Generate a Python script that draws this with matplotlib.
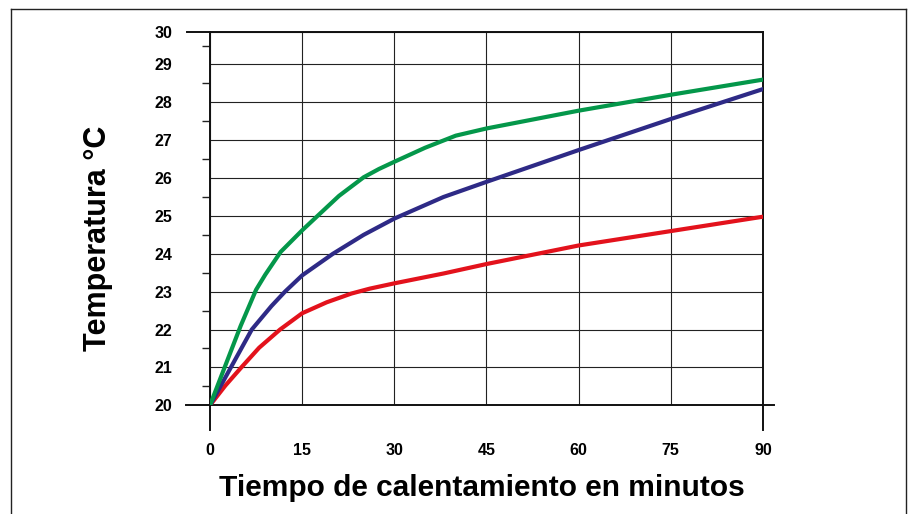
#!/usr/bin/env python3
"""
Temperatura vs tiempo de calentamiento - tres curvas
"""

import matplotlib
matplotlib.use('Agg')
import matplotlib.pyplot as plt
from matplotlib.lines import Line2D

plt.rcParams['font.family'] = ['Liberation Sans', 'DejaVu Sans']
plt.rcParams['font.weight'] = 'bold'

# Datos (minutos, grados C)
t_verde = [0, 2.5, 5, 7.5, 9, 11.5, 15, 17.5, 21, 25, 27.5, 30, 35, 40, 45, 60, 75, 90]
verde = [20, 21.05, 22.1, 23.05, 23.45, 24.05, 24.62, 25.0, 25.53, 26.02, 26.24,
         26.43, 26.8, 27.12, 27.31, 27.78, 28.2, 28.6]

t_azul = [0, 3.4, 6.8, 10, 12.2, 15, 20, 25, 30, 38, 45, 60, 75, 90]
azul = [20, 21.0, 22.0, 22.62, 23.0, 23.43, 24.0, 24.5, 24.93, 25.5, 25.9,
        26.74, 27.56, 28.35]

t_rojo = [0, 2.5, 5.1, 8, 11.4, 15, 19, 23, 26, 30, 38, 45, 60, 75, 90]
rojo = [20, 20.52, 21.0, 21.52, 22.0, 22.43, 22.72, 22.95, 23.08, 23.22, 23.48,
        23.73, 24.22, 24.6, 24.98]

x_ticks = [0, 15, 30, 45, 60, 75, 90]
y_ticks = [20, 21, 22, 23, 24, 25, 26, 27, 28, 29]
y_labels = ['20', '21', '22', '23', '24', '25', '26', '27', '28', '29', '30']
y_minor = [20.5, 21.5, 22.5, 23.5, 24.5, 25.5, 26.5, 27.5, 28.5, 29.5]

# the top row of the original is drawn a little shorter than the others
y_top = 29.85

fig = plt.figure(figsize=(9.11, 5.14), dpi=100)
ax = fig.add_axes([0.2305, 0.2115, 0.607, 0.7257])

ax.plot(t_rojo, rojo, color='#e3121c', lw=3.0, solid_joinstyle='round', zorder=3)
ax.plot(t_azul, azul, color='#2e2a86', lw=3.0, solid_joinstyle='round', zorder=4)
ax.plot(t_verde, verde, color='#04974a', lw=3.0, solid_joinstyle='round', zorder=5)

ax.set_xlim(0, 90)
ax.set_ylim(20, y_top)

ax.set_xticks(x_ticks)
ax.set_yticks(y_ticks + [y_top])
ax.set_yticklabels(y_labels)
ax.set_yticks(y_minor, minor=True)

ax.tick_params(axis='x', length=0, pad=27, labelsize=11.5)
ax.tick_params(axis='y', which='major', length=0, pad=27, labelsize=11.5)
ax.tick_params(axis='y', which='minor', length=5.5, width=1.0, color='#222222')

ax.grid(True, which='major', color='#222222', lw=0.8, zorder=1)

# spines, stretched past the plotting area like the original
for side in ['left', 'right', 'top', 'bottom']:
    ax.spines[side].set_color('#111111')
    ax.spines[side].set_linewidth(1.4)
ax.spines['left'].set_bounds(19.36, y_top)
ax.spines['right'].set_bounds(19.36, y_top)
ax.spines['bottom'].set_bounds(-3.9, 91.8)
ax.spines['top'].set_bounds(-3.7, 90)

fig.text(98 / 911, 1 - 238 / 514, 'Temperatura °C', rotation=90,
         ha='center', va='center', fontsize=22, fontweight='bold')
fig.text(482 / 911, 1 - 488 / 514, 'Tiempo de calentamiento en minutos',
         ha='center', va='center', fontsize=21.5, fontweight='bold')

# marco exterior (sin borde inferior)
frame = dict(color='#222222', lw=1.0, transform=fig.transFigure)
fig.add_artist(Line2D([11 / 911, 11 / 911], [0, 1 - 9 / 514], **frame))
fig.add_artist(Line2D([906 / 911, 906 / 911], [0, 1 - 9 / 514], **frame))
fig.add_artist(Line2D([11 / 911, 906 / 911], [1 - 9 / 514, 1 - 9 / 514], **frame))

fig.savefig('out.png', dpi=100)
plt.close(fig)
